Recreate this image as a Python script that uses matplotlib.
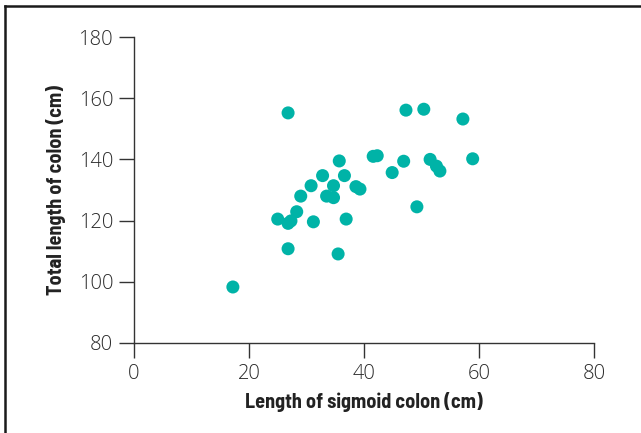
import matplotlib.pyplot as plt
from matplotlib.lines import Line2D

# 数据
sigmoid = [17.2, 26.8, 26.8, 25.0, 26.8, 27.3, 28.3, 29.0, 30.8, 31.2, 32.8,
           33.5, 34.7, 34.7, 35.5, 35.7, 36.6, 36.9, 38.6, 39.3, 41.6, 42.3,
           44.9, 46.9, 47.3, 49.2, 50.4, 51.5, 52.6, 53.2, 57.2, 58.9]
total = [98.3, 155.2, 110.8, 120.5, 119.1, 119.9, 122.9, 128.0, 131.4, 119.6, 134.7,
         128.0, 127.5, 131.4, 109.1, 139.5, 134.7, 120.5, 131.1, 130.3, 141.0, 141.2,
         135.7, 139.4, 156.1, 124.5, 156.4, 140.0, 137.8, 136.2, 153.2, 140.2]
xticks = [0, 20, 40, 60, 80]
yticks = [80, 100, 120, 140, 160, 180]

label_font = ['Barlow Semi Condensed', 'DejaVu Sans']
tick_font = ['Open Sans', 'DejaVu Sans']

fig = plt.figure(figsize=(6.41, 4.33), dpi=100)
ax = fig.add_axes([0.209, 0.2079, 0.7177, 0.7066])

ax.scatter(sigmoid, total, s=88, color='#00b3a7', edgecolors='none', zorder=3)

ax.set_xlim(0, 80)
ax.set_ylim(80, 180)
ax.set_xticks(xticks)
ax.set_yticks(yticks)
for s in ['top', 'right']:
    ax.spines[s].set_visible(False)
for s in ['left', 'bottom']:
    ax.spines[s].set_color('#333333')
    ax.spines[s].set_linewidth(1.0)
ax.tick_params(direction='out', length=11, width=1.0, color='#333333',
               labelsize=14.5, labelcolor='#2a2a2a', pad=4)
for lab in ax.get_xticklabels() + ax.get_yticklabels():
    lab.set_family(tick_font)
    lab.set_fontweight('light')

ax.set_xlabel('Length of sigmoid colon (cm)', fontsize=14.5, fontweight='bold',
              family=label_font, color='#222222', labelpad=6)
ax.set_ylabel('Total length of colon (cm)', fontsize=14.5, fontweight='bold',
              family=label_font, color='#222222', labelpad=9)

# 外框
fig.add_artist(Line2D([5 / 641, 1], [1 - 6 / 433, 1 - 6 / 433],
                      transform=fig.transFigure, color='#1a1a1a', lw=1.8))
fig.add_artist(Line2D([5 / 641, 5 / 641], [0, 1 - 6 / 433],
                      transform=fig.transFigure, color='#1a1a1a', lw=1.8))

fig.savefig('out.png', dpi=100)
